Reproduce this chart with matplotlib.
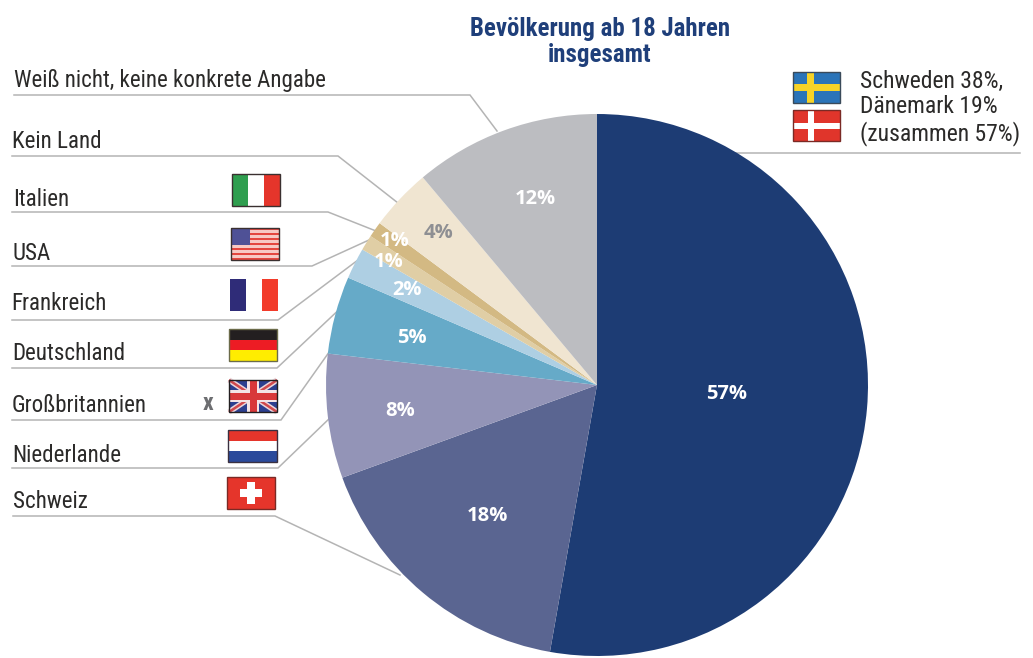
"""
Pie chart of the preferred country, with flags and leader lines beside the labels.
Everything is placed in reference pixel coordinates on one full-figure axes.
"""
import matplotlib
matplotlib.use("Agg")
import matplotlib.pyplot as plt
from matplotlib.patches import Rectangle

W, H = 1033, 658

TITLE = "Bevölkerung ab 18 Jahren\ninsgesamt"
VALUES = [57, 18, 8, 5, 2, 1, 1, 4, 12]
COLORS = ["#1D3C74", "#5A6591", "#9394B7", "#66AAC8", "#AECFE3",
          "#E0CEA5", "#D3B983", "#F0E5D1", "#BCBDC1"]
VALUE_COLORS = ["white"] * 7 + ["#8E8F93", "white"]
VALUE_POS = [(727, 394), (487, 516), (400, 411), (412, 338), (407, 290),
             (389, 262), (395, 241), (438, 233), (535, 199)]

COUNTRIES = ["Weiß nicht, keine konkrete Angabe", "Kein Land", "Italien", "USA",
             "Frankreich", "Deutschland", "Großbritannien", "Niederlande", "Schweiz"]
COUNTRY_POS = [(14, 80), (12, 141), (13, 199), (12, 253), (11, 304),
               (12, 354), (12, 405), (12, 455), (13, 502)]
LEADERS = [
    [(14, 95), (470, 95), (497, 131)],
    [(12, 156), (338, 156), (398, 203)],
    [(12, 212), (328, 212), (376, 231)],
    [(12, 266), (312, 266), (369, 240)],
    [(12, 320), (278, 320), (358, 260)],
    [(12, 368), (277, 368), (345, 304)],
    [(12, 420), (281, 420), (332, 348)],
    [(12, 468), (278, 468), (332, 416)],
    [(13, 516), (275, 516), (400, 575)],
    [(1020, 153), (730, 153)],
]
NORTH_NOTE = "Schweden 38%,\nDänemark 19%\n(zusammen 57%)"

FONT = ["Roboto Condensed", "Roboto"]
VALUE_FONT = ["Open Sans", "DejaVu Sans"]
TEXT = "#2B2A29"
LINE = "#B4B4B4"
NAVY = "#1F3F7A"


def y(py):
    return H - py


def box(ax, x0, py0, x1, py1, color, z=3):
    ax.add_patch(Rectangle((x0, y(py1)), x1 - x0, py1 - py0, facecolor=color,
                           edgecolor="none", zorder=z))


def frame(ax, x0, py0, x1, py1, color="#3A3030"):
    ax.add_patch(Rectangle((x0, y(py1)), x1 - x0, py1 - py0, facecolor="none",
                           edgecolor=color, linewidth=1, zorder=6))


def flag_italy(ax, x0, t, x1, b):
    third = (x1 - x0) / 3
    box(ax, x0, t, x0 + third, b, "#2F9E4F")
    box(ax, x0 + third, t, x0 + 2 * third, b, "white")
    box(ax, x0 + 2 * third, t, x1, b, "#E5352B")
    frame(ax, x0, t, x1, b)


def flag_usa(ax, x0, t, x1, b):
    box(ax, x0, t, x1, b, "#F7C9C4")
    step = (b - t) / 13
    for i in range(0, 13, 2):
        box(ax, x0, t + i * step, x1, t + (i + 1) * step, "#E4473F", 4)
    box(ax, x0, t, x0 + 19, t + 7 * step, "#4F5196", 5)
    frame(ax, x0, t, x1, b)


def flag_france(ax, x0, t, x1, b):
    third = (x1 - x0) / 3
    box(ax, x0, t, x0 + third, b, "#2F2C78")
    box(ax, x0 + 2 * third, t, x1, b, "#F23B2A")


def flag_germany(ax, x0, t, x1, b):
    third = (b - t) / 3
    box(ax, x0, t, x1, t + third, "#231F20")
    box(ax, x0, t + third, x1, t + 2 * third, "#ED1C24")
    box(ax, x0, t + 2 * third, x1, b, "#FFED00")
    frame(ax, x0, t, x1, b, "#6B6B4A")


def flag_uk(ax, x0, t, x1, b):
    clip = Rectangle((x0, y(b)), x1 - x0, b - t, transform=ax.transData)
    box(ax, x0, t, x1, b, "#2C3F8F")
    for ys in [(t, b), (b, t)]:
        for lw, c in [(4.0, "#EBD5DA"), (1.8, "#D0484C")]:
            ax.plot((x0, x1), [y(v) for v in ys], color=c, lw=lw, zorder=4,
                    solid_capstyle="butt", clip_path=clip)
    cx, cy = (x0 + x1) / 2, (t + b) / 2
    box(ax, cx - 6, t, cx + 6, b, "#F3E4E6", 5)
    box(ax, x0, cy - 6, x1, cy + 6, "#F3E4E6", 5)
    box(ax, cx - 3.5, t, cx + 3.5, b, "#D8383A", 5)
    box(ax, x0, cy - 3.5, x1, cy + 3.5, "#D8383A", 5)
    frame(ax, x0, t, x1, b, "#231F20")


def flag_netherlands(ax, x0, t, x1, b):
    third = (b - t) / 3
    box(ax, x0, t, x1, t + third, "#E5352B")
    box(ax, x0, t + third, x1, t + 2 * third, "white")
    box(ax, x0, t + 2 * third, x1, b, "#2B4A9B")
    frame(ax, x0, t, x1, b, "#3A3040")


def flag_switzerland(ax, x0, t, x1, b):
    box(ax, x0, t, x1, b, "#E5352B")
    cx, cy = (x0 + x1) / 2, (t + b) / 2
    box(ax, cx - 4, cy - 11, cx + 4, cy + 11, "white", 4)
    box(ax, cx - 11, cy - 4, cx + 11, cy + 4, "white", 4)
    frame(ax, x0, t, x1, b, "#7A2A25")


def flag_sweden(ax, x0, t, x1, b):
    box(ax, x0, t, x1, b, "#2B74B8")
    box(ax, x0 + 14, t, x0 + 21, b, "#F7D327", 4)
    box(ax, x0, (t + b) / 2 - 3.5, x1, (t + b) / 2 + 3.5, "#F7D327", 4)
    frame(ax, x0, t, x1, b, "#3A4A5A")


def flag_denmark(ax, x0, t, x1, b):
    box(ax, x0, t, x1, b, "#E0352B")
    box(ax, x0 + 15, t, x0 + 21, b, "white", 4)
    box(ax, x0, (t + b) / 2 - 3, x1, (t + b) / 2 + 3, "white", 4)
    frame(ax, x0, t, x1, b, "#7A2A25")


def main():
    fig = plt.figure(figsize=(W / 100, H / 100), dpi=100, facecolor="white")
    ax = fig.add_axes([0, 0, 1, 1])

    for pts in LEADERS:
        ax.plot([p[0] for p in pts], [y(p[1]) for p in pts], color=LINE, lw=1.1,
                zorder=1, solid_joinstyle="miter")

    wedges, _ = ax.pie(VALUES, colors=COLORS, startangle=90, counterclock=False,
                       center=(597, y(385)), radius=271, frame=True)
    for w in wedges:
        w.set_zorder(2)

    ax.set_xlim(0, W)
    ax.set_ylim(0, H)
    ax.set_aspect("equal")
    ax.axis("off")

    for val, col, (px, py) in zip(VALUES, VALUE_COLORS, VALUE_POS):
        ax.text(px, y(py), f"{val}%", color=col, fontsize=14.5, fontweight="bold",
                ha="center", va="center", family=VALUE_FONT, zorder=7)

    for name, (px, py) in zip(COUNTRIES, COUNTRY_POS):
        ax.text(px, y(py), name, color=TEXT, fontsize=16.6, ha="left", va="center",
                family=FONT, zorder=7)

    ax.text(600, y(42), TITLE, color=NAVY, fontsize=17.9, fontweight="bold", ha="center",
            va="center", linespacing=1.15, family=FONT)
    ax.text(860, y(108), NORTH_NOTE, color=TEXT, fontsize=17, ha="left", va="center",
            linespacing=1.13, family=FONT)
    ax.text(208, y(404), "x", color="#6D6E71", fontsize=17, fontweight="bold",
            ha="center", va="center", family=FONT)

    flag_italy(ax, 232, 174, 280, 206)
    flag_usa(ax, 231, 228, 279, 260)
    flag_france(ax, 230, 279, 278, 311)
    flag_germany(ax, 229, 329, 277, 361)
    flag_uk(ax, 229, 380, 277, 412)
    flag_netherlands(ax, 228, 430, 277, 462)
    flag_switzerland(ax, 227, 477, 275, 509)
    flag_sweden(ax, 793, 72, 840, 103)
    flag_denmark(ax, 793, 110, 840, 141)

    fig.savefig("out.png", dpi=100, facecolor="white")
    plt.close(fig)


if __name__ == "__main__":
    main()
